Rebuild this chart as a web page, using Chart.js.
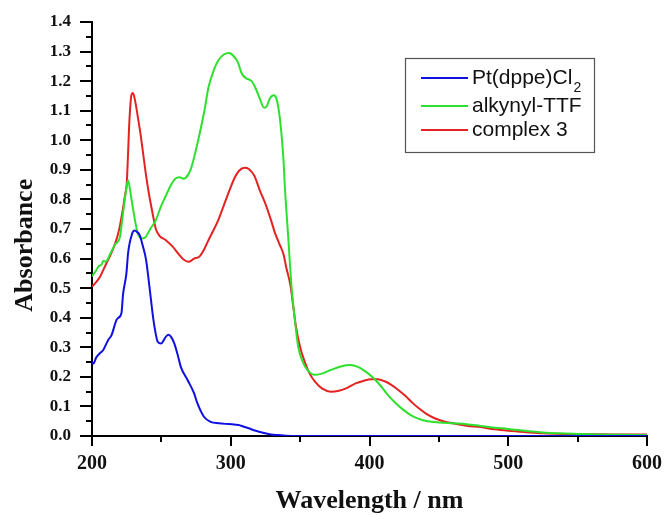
<!DOCTYPE html>
<html>
<head>
<meta charset="utf-8">
<script src="https://cdn.jsdelivr.net/npm/chart.js@4"></script>
<style>
  html, body { margin: 0; padding: 0; background: #fff; }
  #wrap { width: 668px; height: 515px; }
</style>
</head>
<body>
<div id="wrap"><canvas id="c" width="668" height="515"></canvas></div>
<script>
// ---- data ----
const seriesNames = ['Pt(dppe)Cl\u2082', 'alkynyl-TTF', 'complex 3'];
const seriesColors = ['#1010e0', '#2ee02e', '#e42222'];

const ptWl  = [200,201,203,205.7,208,211.7,214,217.6,219,221.2,222.4,224.8,226,229,230.7,232.5,234.3,236.5,239,241.4,244.3,247.4,249.8,253.3,255.2,257,259.3,262,264,268.8,273.6,276,280.7,285.5,291.4,296,301,305.7,309,312.9,318,324.8,329,334.3,340,360,400,450,500,550,600];
const ptAbs = [0.25,0.245,0.265,0.28,0.29,0.325,0.34,0.392,0.40,0.415,0.48,0.55,0.618,0.685,0.695,0.69,0.68,0.645,0.595,0.505,0.392,0.319,0.313,0.336,0.342,0.335,0.313,0.27,0.234,0.19,0.144,0.11,0.065,0.048,0.043,0.041,0.04,0.037,0.032,0.026,0.018,0.009,0.005,0.003,0.001,0,0,0,0,0,0];

const ttfWl  = [200,203,205,207,208,210,213,217,220,222,224.5,226,227.5,229.5,233,236,238,242,246,250,253,257,260,263,266,268,271,274,277,281,284,288,291,295,299,302,305,308,311,315,318,321,324,326,328,331,333,335.5,338,339,341.4,343.8,346.2,348.6,352,355,360,365,372,380,386,392,398,403,408,413,418,424,430,436,442,450,460,470,480,490,500,513,525,537,550,565,580,600];
const ttfAbs = [0.54,0.56,0.575,0.58,0.592,0.59,0.615,0.65,0.67,0.74,0.83,0.865,0.83,0.77,0.685,0.668,0.67,0.70,0.73,0.78,0.81,0.85,0.87,0.875,0.87,0.875,0.90,0.95,1.01,1.10,1.18,1.24,1.27,1.29,1.295,1.285,1.265,1.225,1.21,1.20,1.175,1.14,1.11,1.115,1.14,1.152,1.14,1.07,0.934,0.843,0.674,0.505,0.392,0.302,0.25,0.225,0.207,0.21,0.223,0.236,0.24,0.233,0.215,0.195,0.17,0.14,0.115,0.09,0.07,0.057,0.05,0.046,0.043,0.04,0.034,0.028,0.024,0.017,0.012,0.009,0.007,0.005,0.004,0.003];

const cpxWl  = [200,203,206,208,211,215,218,220,222,224,225,226,227,228.5,229.5,231,233,235,237,239,241,244,246,249,253,258,263,266,270,273.6,277,280.7,284,288,291,295,299,303,306,310,313,317,321,325,329,332,335,338,340,343,345,347,350,353,357,361,366,372,378,384,390,396,401,406,411,416,421,426,431,436,441,447,453,460,470,480,490,500,513,525,540,560,580,600];
const cpxAbs = [0.505,0.52,0.54,0.56,0.59,0.63,0.67,0.708,0.76,0.82,0.85,0.956,1.07,1.155,1.16,1.135,1.08,1.02,0.95,0.88,0.82,0.745,0.70,0.675,0.663,0.641,0.612,0.597,0.589,0.60,0.605,0.63,0.663,0.70,0.73,0.78,0.83,0.875,0.897,0.907,0.903,0.88,0.83,0.785,0.73,0.685,0.65,0.615,0.57,0.51,0.44,0.37,0.30,0.255,0.21,0.182,0.16,0.15,0.153,0.163,0.178,0.187,0.192,0.192,0.185,0.172,0.155,0.135,0.112,0.092,0.075,0.06,0.05,0.043,0.035,0.03,0.023,0.018,0.013,0.009,0.007,0.006,0.005,0.005];

const xMajorTicks = [200, 300, 400, 500, 600];
const xMinorTicks = [250, 350, 450, 550];
const yRange = [0, 1.4];
const xTitle = 'Wavelength / nm';
const yTitle = 'Absorbance';

// ---- build datasets ----
function pts(xs, ys) { return xs.map((x, i) => ({ x: x, y: ys[i] })); }
const seriesData = [pts(ptWl, ptAbs), pts(ttfWl, ttfAbs), pts(cpxWl, cpxAbs)];

const datasets = seriesNames.map((name, i) => ({
  label: name,
  data: seriesData[i],
  borderColor: seriesColors[i],
  backgroundColor: seriesColors[i],
  borderWidth: 2,
  pointRadius: 0,
  cubicInterpolationMode: 'monotone',
  fill: false
}));

// minor ticks plugin
const minorTicks = {
  id: 'minorTicks',
  afterDraw(chart) {
    const ctx = chart.ctx, xs = chart.scales.x, ys = chart.scales.y;
    const a = chart.chartArea;
    ctx.save();
    ctx.strokeStyle = '#000';
    ctx.lineWidth = 2;
    ctx.beginPath();
    xMinorTicks.forEach(v => {
      const px = Math.round(xs.getPixelForValue(v));
      ctx.moveTo(px, a.bottom); ctx.lineTo(px, a.bottom + 6);
    });
    for (let k = 0; k < 14; k++) {
      const v = 0.05 + k * 0.1;
      const py = Math.round(ys.getPixelForValue(v));
      ctx.moveTo(a.left, py); ctx.lineTo(a.left - 6, py);
    }
    ctx.stroke();
    ctx.restore();
  }
};

// boxed legend inside the plot
const boxLegend = {
  id: 'boxLegend',
  afterDraw(chart) {
    const ctx = chart.ctx, a = chart.chartArea;
    const bx = a.left + 313, by = a.top + 36, bw = 189, bh = 94;
    ctx.save();
    ctx.strokeStyle = '#555';
    ctx.lineWidth = 1.2;
    ctx.strokeRect(bx + 0.5, by + 0.5, bw, bh);
    const rows = [by + 20, by + 48, by + 72];
    const fontMain = '21px "Liberation Sans", Arial, sans-serif';
    const fontSub = '14px "Liberation Sans", Arial, sans-serif';
    chart.data.datasets.forEach((ds, i) => {
      const y = rows[i];
      ctx.strokeStyle = ds.borderColor;
      ctx.lineWidth = 2;
      ctx.beginPath();
      ctx.moveTo(bx + 16, y); ctx.lineTo(bx + 63, y);
      ctx.stroke();
      ctx.fillStyle = '#111';
      ctx.textBaseline = 'middle';
      ctx.textAlign = 'left';
      ctx.font = fontMain;
      let label = ds.label, sub = '';
      if (label.endsWith('\u2082')) { sub = '2'; label = label.slice(0, -1); }
      ctx.fillText(label, bx + 67, y);
      if (sub) {
        const w = ctx.measureText(label).width;
        ctx.font = fontSub;
        ctx.fillText(sub, bx + 67 + w + 1, y + 10);
      }
    });
    ctx.restore();
  }
};

const serif = '"Liberation Serif", "Times New Roman", serif';
const xTickFont = { family: serif, size: 20, weight: 'bold' };
const yTickFont = { family: serif, size: 17, weight: 'bold' };
const titleFont = { family: serif, size: 26, weight: 'bold', lineHeight: 1 };

new Chart(document.getElementById('c'), {
  type: 'line',
  data: { datasets: datasets },
  options: {
    responsive: false,
    animation: false,
    layout: { padding: { top: 22, right: 16, left: 0, bottom: 0 } },
    plugins: { legend: { display: false }, tooltip: { enabled: false } },
    scales: {
      x: {
        type: 'linear',
        min: xMajorTicks[0], max: xMajorTicks[xMajorTicks.length - 1],
        afterBuildTicks(scale) { scale.ticks = xMajorTicks.map(v => ({ value: v })); },
        afterFit(scale) { scale.height = 79; },
        ticks: { font: xTickFont, color: '#111', padding: 6, maxRotation: 0,
                 callback: v => String(v) },
        grid: { drawOnChartArea: false, drawTicks: true, tickLength: 10, color: '#000', lineWidth: 2 },
        border: { display: true, color: '#000', width: 2 },
        title: { display: true, text: xTitle, font: titleFont, color: '#111', padding: { top: 0, bottom: 1 } }
      },
      y: {
        type: 'linear',
        min: yRange[0], max: yRange[1],
        ticks: { stepSize: 0.1, font: yTickFont, color: '#111', padding: 9,
                 callback: v => Number(v).toFixed(1) },
        afterFit(scale) { scale.width = 92; },
        grid: { drawOnChartArea: false, drawTicks: true, tickLength: 12, color: '#000', lineWidth: 2 },
        border: { display: true, color: '#000', width: 2 },
        // trailing spaces push the rotated title ~17px below the axis centre, as in the reference
        title: { display: true, text: yTitle + '     ', font: titleFont, color: '#111', padding: { top: 12, bottom: 0 } }
      }
    }
  },
  plugins: [minorTicks, boxLegend]
});
</script>
</body>
</html>
